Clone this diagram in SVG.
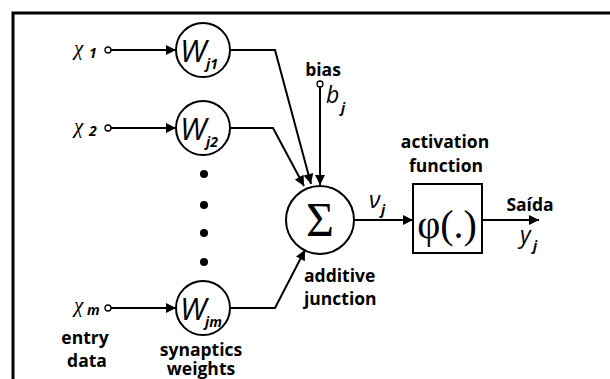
<svg xmlns="http://www.w3.org/2000/svg" width="610" height="379" viewBox="0 0 610 379">
<defs>
<marker id="ah" viewBox="0 0 10 10" refX="10" refY="5" markerWidth="11" markerHeight="10" markerUnits="userSpaceOnUse" orient="auto">
<path d="M0,0 L10,5 L0,10 z" fill="#000"/>
</marker>
</defs>
<style>
.ln{fill:none;stroke:#000;stroke-width:2}
.nd{fill:#fff;stroke:#000;stroke-width:2}
.pt{fill:#fff;stroke:#000;stroke-width:1.3}
.lb{font-family:"Open Sans","Liberation Sans",sans-serif;font-weight:bold;font-size:17.5px;fill:#000}
.ch{font-family:"Liberation Serif",serif;font-style:italic;font-size:21px;fill:#000}
.sb{font-family:"Open Sans","Liberation Sans",sans-serif;font-weight:bold;font-style:italic;font-size:14px;fill:#000}
.w{font-family:"Open Sans","Liberation Sans",sans-serif;font-style:italic;font-size:31px;fill:#000}
.it{font-family:"Open Sans","Liberation Sans",sans-serif;font-style:italic;font-size:23px;fill:#000}
.sr{font-family:"Liberation Serif",serif;fill:#000}
</style>
<rect width="610" height="379" fill="#fff"/>
<path d="M13,379 V13 H610" fill="none" stroke="#000" stroke-width="3"/>

<g id="connectors">
<line class="ln" x1="111" y1="50" x2="176" y2="50" marker-end="url(#ah)"/>
<line class="ln" x1="111" y1="128" x2="176" y2="128" marker-end="url(#ah)"/>
<line class="ln" x1="111" y1="308" x2="176" y2="308" marker-end="url(#ah)"/>
<polyline class="ln" points="230,50 275,50 311,184" marker-end="url(#ah)"/>
<polyline class="ln" points="230,128 273,128 304,186" marker-end="url(#ah)"/>
<polyline class="ln" points="230,308 275,308 305,250" marker-end="url(#ah)"/>
<line class="ln" x1="320" y1="87" x2="320" y2="185" marker-end="url(#ah)"/>
<line class="ln" x1="354" y1="220" x2="413" y2="220" marker-end="url(#ah)"/>
<line class="ln" x1="482" y1="220" x2="539" y2="220" marker-end="url(#ah)"/>
</g>

<g id="x1"><circle class="pt" cx="108" cy="50" r="3"/><text class="ch" x="74" y="55">χ</text><text class="sb" x="89" y="58">1</text></g>
<g id="x2"><circle class="pt" cx="108" cy="128" r="3"/><text class="ch" x="74" y="133">χ</text><text class="sb" x="89" y="136">2</text></g>
<g id="xm"><circle class="pt" cx="108" cy="308" r="3"/><text class="ch" x="74" y="312">χ</text><text class="sb" x="87" y="315">m</text></g>

<g id="wj1"><circle class="nd" cx="203" cy="50" r="27"/><text class="w" x="180" y="62">W</text><text class="sb" x="206" y="69">j1</text></g>
<g id="wj2"><circle class="nd" cx="203" cy="128" r="27"/><text class="w" x="180" y="140">W</text><text class="sb" x="206" y="147">j2</text></g>
<g id="wjm"><circle class="nd" cx="203" cy="308" r="27"/><text class="w" x="180" y="320">W</text><text class="sb" x="205" y="327">jm</text></g>

<g id="dots">
<circle cx="204" cy="174" r="4"/><circle cx="204" cy="205" r="4"/><circle cx="204" cy="233" r="4"/><circle cx="204" cy="262" r="4"/>
</g>

<g id="bias"><circle class="pt" cx="320" cy="84" r="3"/><text class="lb" x="323" y="76" text-anchor="middle">bias</text><text class="it" x="326" y="103">b</text><text class="sb" x="341" y="113">j</text></g>

<g id="sum"><circle class="nd" cx="320" cy="220" r="34"/><text class="sr" x="320" y="236" font-size="48" text-anchor="middle">Σ</text>
<text class="lb" x="304" y="282">additive</text><text class="lb" x="304" y="305">junction</text></g>

<g id="v"><text class="it" x="369" y="208">ν</text><text class="sb" x="381" y="215">j</text></g>

<g id="act"><rect class="nd" x="413" y="184" width="69" height="69"/><text class="sr" x="447" y="238" font-size="40" text-anchor="middle">φ(.)</text>
<text class="lb" x="445" y="148" text-anchor="middle">activation</text><text class="lb" x="446" y="172" text-anchor="middle">function</text></g>

<g id="out"><text class="lb" x="530" y="211" text-anchor="middle">Saída</text><text class="it" x="520" y="243">y</text><text class="sb" x="533" y="251">j</text></g>

<g id="labels">
<text class="lb" x="85" y="344" text-anchor="middle">entry</text><text class="lb" x="87" y="367" text-anchor="middle">data</text>
<text class="lb" x="201" y="356" text-anchor="middle">synaptics</text><text class="lb" x="201" y="375" text-anchor="middle">weights</text>
</g>
</svg>
